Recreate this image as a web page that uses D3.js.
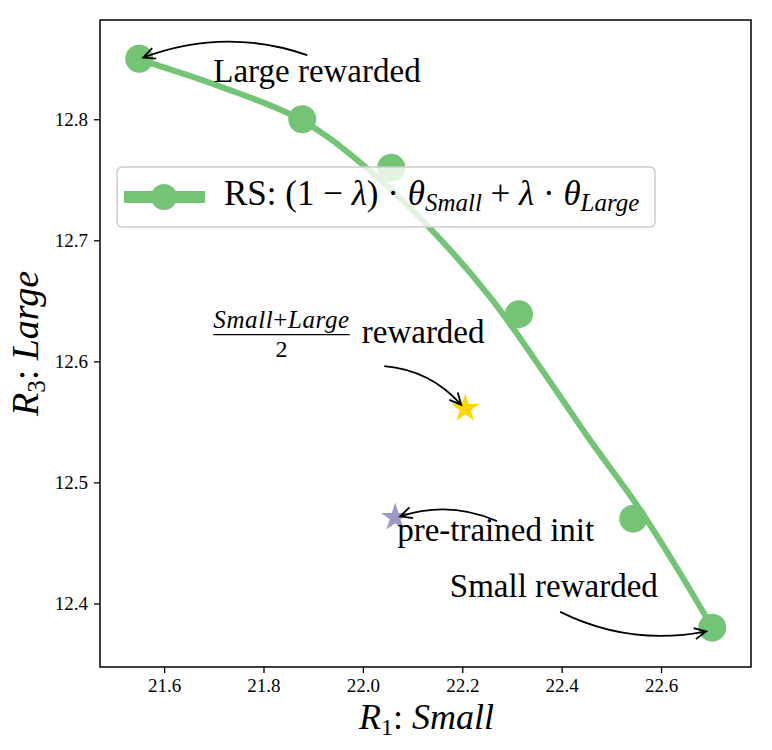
<!DOCTYPE html>
<html>
<head>
<meta charset="utf-8">
<script src="https://cdn.jsdelivr.net/npm/d3@7"></script>
<style>
  body { margin: 0; background: #fff; }
  text { font-family: "Liberation Serif", "DejaVu Serif", serif; fill: #000; }
</style>
</head>
<body>
<div id="chart"></div>
<script>
// values
const curveX = [21.552, 21.713, 21.874, 22.004, 22.135, 22.256, 22.377, 22.457, 22.552, 22.628, 22.699];
const curveY = [12.849, 12.827, 12.800, 12.761, 12.710, 12.653, 12.583, 12.535, 12.481, 12.432, 12.383];
const markerX = [21.55, 21.878, 22.057, 22.314, 22.544, 22.703];
const markerY = [12.85, 12.80, 12.760, 12.639, 12.470, 12.380];
const xTicks = [21.6, 21.8, 22.0, 22.2, 22.4, 22.6];
const yTicks = [12.4, 12.5, 12.6, 12.7, 12.8];
const starNames = ['(Small+Large)/2 rewarded', 'pre-trained init'];
const starX = [22.206, 22.065];
const starY = [12.561, 12.471];
const starColors = ['#ffd700', '#9e9ac8'];

// annotation text position and arrow (from -> to), arc bend
const annotations = [
    { label: 'Large rewarded', tx: 21.699, ty: 12.831, fromX: 21.888, fromY: 12.853, toX: 21.558, toY: 12.851, rad: -0.18 },
    { label: 'frac', tx: 21.699, ty: 12.622, fromX: 22.043, fromY: 12.596, toX: 22.198, toY: 12.564, rad: 0.2 },
    { label: 'pre-trained init', tx: 22.069, ty: 12.452, fromX: 22.270, fromY: 12.468, toX: 22.075, toY: 12.472, rad: -0.19 },
    { label: 'Small rewarded', tx: 22.175, ty: 12.405, fromX: 22.397, fromY: 12.393, toX: 22.691, toY: 12.377, rad: -0.17 }
];

const green = '#74c476';

const margin = { top: 20, right: 21, bottom: 83, left: 100 },
      width = 772 - margin.left - margin.right,
      height = 750 - margin.top - margin.bottom;

const svg = d3.select('#chart').append('svg')
    .attr('width', 772)
    .attr('height', 750);

const g = svg.append('g')
    .attr('transform', `translate(${margin.left},${margin.top})`);

const x = d3.scaleLinear().domain([21.471, 22.781]).range([0, width]);
const y = d3.scaleLinear().domain([12.3475, 12.882]).range([height, 0]);

// x-axis
const xAxis = g.append('g')
    .attr('transform', `translate(0,${height})`)
    .call(d3.axisBottom(x).tickValues(xTicks).tickFormat(d3.format('.1f')).tickSize(6).tickPadding(6));
xAxis.select('.domain').remove();

// y-axis
const yAxis = g.append('g')
    .call(d3.axisLeft(y).tickValues(yTicks).tickFormat(d3.format('.1f')).tickSize(6).tickPadding(6));
yAxis.select('.domain').remove();

g.selectAll('.tick line').attr('stroke', '#000').attr('stroke-width', 1.3);
g.selectAll('.tick text')
    .style('font-family', '"Liberation Serif", serif')
    .style('font-size', '19px');

// curve
const pts = curveX.map((d, i) => [d, curveY[i]]);
const line = d3.line()
    .x(d => x(d[0]))
    .y(d => y(d[1]))
    .curve(d3.curveCatmullRom);

g.append('path')
    .datum(pts)
    .attr('fill', 'none')
    .attr('stroke', green)
    .attr('stroke-width', 6)
    .attr('d', line);

// markers
g.selectAll('.marker')
    .data(markerX)
    .enter().append('circle')
    .attr('class', 'marker')
    .attr('cx', d => x(d))
    .attr('cy', (d, i) => y(markerY[i]))
    .attr('r', 14)
    .attr('fill', green);

// stars
g.selectAll('.star')
    .data(starNames)
    .enter().append('path')
    .attr('class', 'star')
    .attr('transform', (d, i) => `translate(${x(starX[i])},${y(starY[i])})`)
    .attr('d', d3.symbol().type(d3.symbolStar).size(250))
    .attr('fill', (d, i) => starColors[i]);

// annotations
annotations.forEach(a => {
    const x0 = x(a.fromX), y0 = y(a.fromY), x2 = x(a.toX), y2 = y(a.toY);
    const dx = x2 - x0, dy = y2 - y0;
    const cx = (x0 + x2) / 2 + a.rad * dy,
          cy = (y0 + y2) / 2 - a.rad * dx;
    const p = d3.path();
    p.moveTo(x0, y0);
    p.quadraticCurveTo(cx, cy, x2, y2);
    const ang = Math.atan2(y2 - cy, x2 - cx);
    const L = 13;
    p.moveTo(x2 + L * Math.cos(ang + Math.PI - 0.45), y2 + L * Math.sin(ang + Math.PI - 0.45));
    p.lineTo(x2, y2);
    p.lineTo(x2 + L * Math.cos(ang + Math.PI + 0.45), y2 + L * Math.sin(ang + Math.PI + 0.45));
    g.append('path')
        .attr('d', p.toString())
        .attr('fill', 'none')
        .attr('stroke', '#000')
        .attr('stroke-width', 1.8);

    if (a.label === 'frac') {
        const fx = x(a.tx), fy = y(a.ty);
        const num = g.append('text')
            .attr('y', fy - 7)
            .style('font-size', '25px')
            .style('letter-spacing', '0.6px');
        num.append('tspan').attr('font-style', 'italic').text('Small');
        num.append('tspan').text('+');
        num.append('tspan').attr('font-style', 'italic').text('Large');
        num.attr('x', fx);
        const w = num.node().getComputedTextLength();
        g.append('line')
            .attr('x1', fx).attr('x2', fx + w)
            .attr('y1', fy).attr('y2', fy)
            .attr('stroke', '#000').attr('stroke-width', 1.3);
        g.append('text')
            .attr('x', fx + w / 2)
            .attr('y', fy + 22)
            .attr('text-anchor', 'middle')
            .style('font-size', '24px')
            .text('2');
        g.append('text')
            .attr('x', fx + w + 12)
            .attr('y', fy + 8)
            .style('font-size', '33px')
            .text('rewarded');
    } else {
        g.append('text')
            .attr('x', x(a.tx))
            .attr('y', y(a.ty))
            .style('font-size', '33px')
            .text(a.label);
    }
});

// legend
const legend = svg.append('g');
legend.append('rect')
    .attr('x', 117).attr('y', 167)
    .attr('width', 538).attr('height', 60)
    .attr('rx', 5)
    .attr('fill', '#fff').attr('fill-opacity', 0.8)
    .attr('stroke', '#cccccc').attr('stroke-width', 1.5);
legend.append('line')
    .attr('x1', 124).attr('x2', 205)
    .attr('y1', 197).attr('y2', 197)
    .attr('stroke', green).attr('stroke-width', 12);
legend.append('circle')
    .attr('cx', 164).attr('cy', 197).attr('r', 13)
    .attr('fill', green);
const lt = legend.append('text')
    .attr('x', 224).attr('y', 205)
    .style('font-size', '35px');
lt.append('tspan').text('RS: (1 \u2212 ');
lt.append('tspan').attr('font-style', 'italic').text('\u03bb');
lt.append('tspan').text(') \u00b7 ');
lt.append('tspan').attr('font-style', 'italic').text('\u03b8');
lt.append('tspan').attr('font-style', 'italic').attr('font-size', '25px').attr('dy', 6).text('Small');
lt.append('tspan').attr('dy', -6).text(' + ');
lt.append('tspan').attr('font-style', 'italic').text('\u03bb');
lt.append('tspan').text(' \u00b7 ');
lt.append('tspan').attr('font-style', 'italic').text('\u03b8');
lt.append('tspan').attr('font-style', 'italic').attr('font-size', '25px').attr('dy', 6).text('Large');

// frame
g.append('rect')
    .attr('width', width).attr('height', height)
    .attr('fill', 'none')
    .attr('stroke', '#000').attr('stroke-width', 1.5);

// axis labels
const xl = svg.append('text')
    .attr('x', margin.left + width / 2 + 1)
    .attr('y', 729)
    .attr('text-anchor', 'middle')
    .style('font-size', '36px');
xl.append('tspan').attr('font-style', 'italic').text('R');
xl.append('tspan').attr('font-size', '24px').attr('dy', 6).text('1');
xl.append('tspan').attr('dy', -6).text(': ');
xl.append('tspan').attr('font-style', 'italic').text('Small');

const yl = svg.append('text')
    .attr('transform', `translate(38,${margin.top + height / 2}) rotate(-90)`)
    .attr('text-anchor', 'middle')
    .style('font-size', '38px');
yl.append('tspan').attr('font-style', 'italic').text('R');
yl.append('tspan').attr('font-size', '25px').attr('dy', 7).text('3');
yl.append('tspan').attr('dy', -7).text(': ');
yl.append('tspan').attr('font-style', 'italic').text('Large');
</script>
</body>
</html>
